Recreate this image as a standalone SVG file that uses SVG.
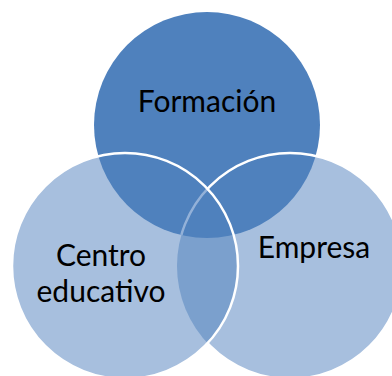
<svg xmlns="http://www.w3.org/2000/svg" width="392" height="376" viewBox="0 0 392 376">
<style>
.lbl{font-family:Lato,"Noto Sans","Liberation Sans",sans-serif;font-size:30px;fill:#000;text-anchor:middle}
.light{fill:#A7BFDE}
.white{fill:none;stroke:#FFFFFF;stroke-width:2.5}
</style>
<defs>
<clipPath id="clipLeft"><circle cx="125" cy="266" r="113"/></clipPath>
<clipPath id="clipTop"><circle cx="207" cy="125" r="113"/></clipPath>
<mask id="outLeft" maskUnits="userSpaceOnUse" x="0" y="0" width="392" height="376">
<rect x="0" y="0" width="392" height="376" fill="#fff"/>
<circle cx="125" cy="266" r="113" fill="#000"/>
</mask>
</defs>
<rect width="392" height="376" fill="#FFFFFF"/>
<g id="centro">
<circle class="light" cx="125" cy="266" r="113"/>
</g>
<g id="empresa">
<circle class="light" cx="290" cy="266" r="113"/>
<circle cx="290" cy="266" r="113" fill="#7BA0CD" clip-path="url(#clipLeft)"/>
</g>
<g id="formacion">
<circle cx="207" cy="125" r="113" fill="#4F81BD"/>
</g>
<g id="connectors">
<g clip-path="url(#clipTop)"><g clip-path="url(#clipLeft)"><circle cx="290" cy="266" r="113" fill="none" stroke="#93B1D8" stroke-width="2.5"/></g></g>
<circle class="white" cx="290" cy="266" r="113" mask="url(#outLeft)"/>
<circle class="white" cx="125" cy="266" r="113"/>
</g>
<g id="labels">
<text class="lbl" x="207" y="112">Formación</text>
<text class="lbl" x="101" y="266">Centro</text>
<text class="lbl" x="101" y="302">educativo</text>
<text class="lbl" x="314" y="258">Empresa</text>
</g>
</svg>
